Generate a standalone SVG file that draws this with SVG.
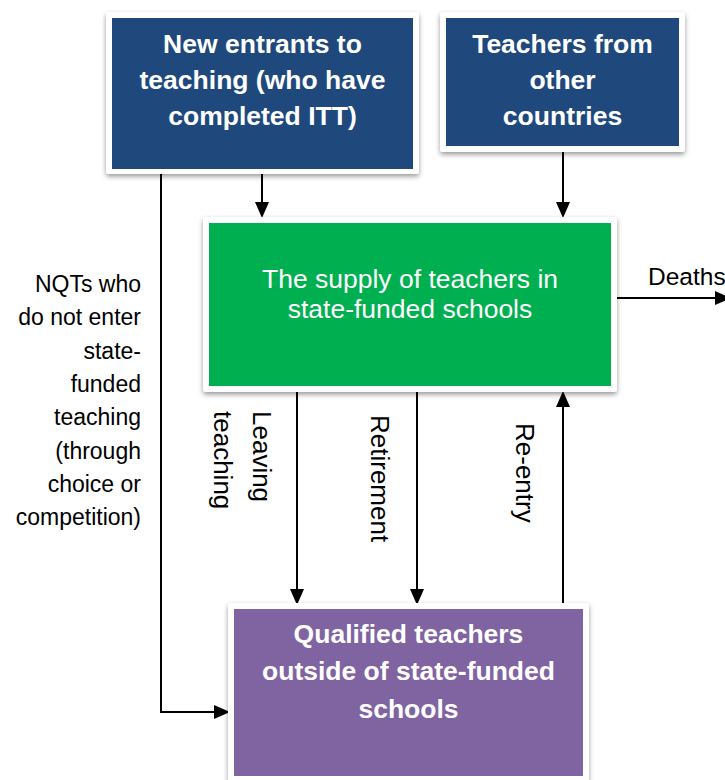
<svg xmlns="http://www.w3.org/2000/svg" width="725" height="780" viewBox="0 0 725 780">
  <defs>
    <filter id="shadow" x="-10%" y="-10%" width="120%" height="130%">
      <feDropShadow dx="0" dy="2.5" stdDeviation="2.5" flood-color="#000" flood-opacity="0.4"/>
    </filter>
    <marker id="arrow" viewBox="0 0 16 14" refX="12" refY="7" markerWidth="16" markerHeight="14" markerUnits="userSpaceOnUse" orient="auto">
      <path d="M0,0 L16,7 L0,14 Z" fill="#000"/>
    </marker>
  </defs>
  <style>
    .frame { fill: #fff; filter: url(#shadow); }
    .navy { fill: #1F497D; }
    .green { fill: #00B050; }
    .purple { fill: #8064A2; }
    .bold { font-family: "Liberation Sans", Arial, sans-serif; font-weight: bold; font-size: 26.5px; fill: #fff; text-anchor: middle; }
    .light { font-family: "Liberation Sans", Arial, sans-serif; font-size: 26.5px; fill: #fff; text-anchor: middle; }
    .label { font-family: "Liberation Sans", Arial, sans-serif; font-size: 23px; fill: #000; }
    .side { font-family: "Liberation Sans", Arial, sans-serif; font-size: 23px; fill: #000; text-anchor: end; }
    .vlabel { font-family: "Liberation Sans", Arial, sans-serif; font-size: 26px; fill: #000; }
    .conn { fill: none; stroke: #000; stroke-width: 2; marker-end: url(#arrow); }
  </style>

  <rect width="725" height="780" fill="#fff"/>

  <!-- connectors -->
  <g id="connectors">
    <line class="conn" x1="262" y1="174" x2="262" y2="214"/>
    <line class="conn" x1="563" y1="152" x2="563" y2="214"/>
    <line class="conn" x1="297" y1="391" x2="297" y2="601"/>
    <line class="conn" x1="417" y1="391" x2="417" y2="601"/>
    <line class="conn" x1="563" y1="605" x2="563" y2="395"/>
    <line class="conn" x1="616" y1="298" x2="727" y2="298"/>
    <path class="conn" d="M161,174 V712 H226"/>
  </g>

  <!-- source: new entrants -->
  <g id="new-entrants">
    <rect class="frame" x="106" y="12" width="313" height="162" rx="3"/>
    <rect class="navy" x="112" y="18" width="301" height="151"/>
    <text class="bold" x="262.5" y="53">New entrants to</text>
    <text class="bold" x="262.5" y="89">teaching (who have</text>
    <text class="bold" x="262.5" y="125">completed ITT)</text>
  </g>

  <!-- source: overseas teachers -->
  <g id="other-countries">
    <rect class="frame" x="440" y="12" width="245" height="140" rx="3"/>
    <rect class="navy" x="446" y="18" width="233" height="128"/>
    <text class="bold" x="562.5" y="53">Teachers from</text>
    <text class="bold" x="562.5" y="89">other</text>
    <text class="bold" x="562.5" y="125">countries</text>
  </g>

  <!-- stock: state-funded teachers -->
  <g id="supply">
    <rect class="frame" x="203" y="217" width="414" height="175" rx="3"/>
    <rect class="green" x="209" y="223" width="402" height="163"/>
    <text class="light" x="410" y="288">The supply of teachers in</text>
    <text class="light" x="410" y="318">state-funded schools</text>
  </g>

  <!-- stock: qualified teachers outside the sector -->
  <g id="outside">
    <rect class="frame" x="228" y="603" width="361" height="180" rx="3"/>
    <rect class="purple" x="234" y="609" width="349" height="167"/>
    <text class="bold" x="408.5" y="643">Qualified teachers</text>
    <text class="bold" x="408.5" y="680">outside of state-funded</text>
    <text class="bold" x="408.5" y="718">schools</text>
  </g>

  <!-- flow labels -->
  <g id="labels">
    <text class="label" x="648" y="285" style="font-size:24.5px">Deaths</text>
    <text class="side" x="141" y="292">NQTs who</text>
    <text class="side" x="141" y="325.3">do not enter</text>
    <text class="side" x="141" y="358.6">state-</text>
    <text class="side" x="141" y="391.9">funded</text>
    <text class="side" x="141" y="425.2">teaching</text>
    <text class="side" x="141" y="458.5">(through</text>
    <text class="side" x="141" y="491.8">choice or</text>
    <text class="side" x="141" y="525">competition)</text>
    <text class="vlabel" transform="translate(253,411) rotate(90)">Leaving</text>
    <text class="vlabel" transform="translate(214,411) rotate(90)">teaching</text>
    <text class="vlabel" transform="translate(371,415) rotate(90)">Retirement</text>
    <text class="vlabel" transform="translate(516,423) rotate(90)">Re-entry</text>
  </g>
</svg>
